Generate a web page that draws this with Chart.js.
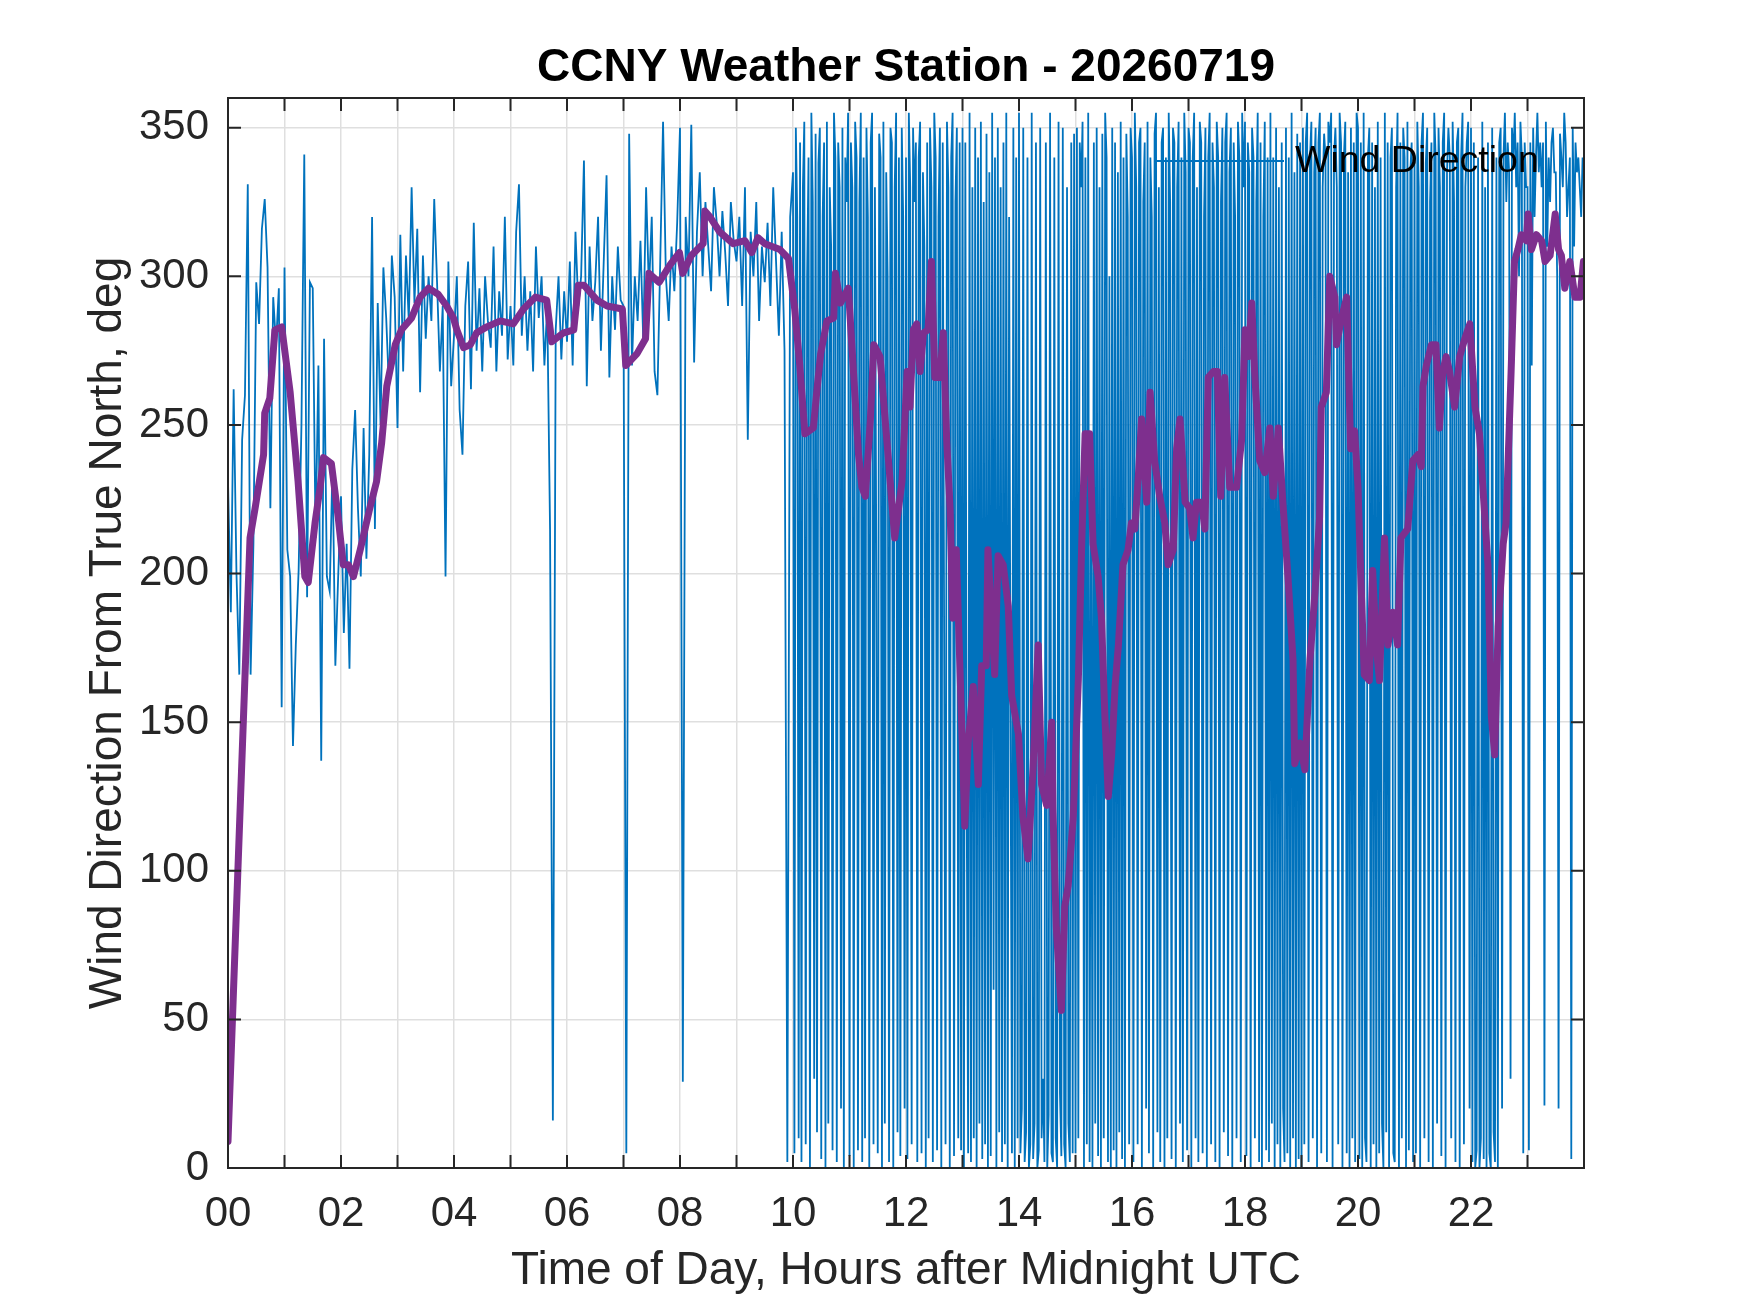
<!DOCTYPE html>
<html>
<head>
<meta charset="utf-8">
<script src="https://cdn.jsdelivr.net/npm/chart.js@4.4.1/dist/chart.umd.min.js"></script>
<style>
  html, body { margin: 0; padding: 0; background: #ffffff; }
  #wrap { width: 1750px; height: 1313px; }
</style>
</head>
<body>
<div id="wrap"><canvas id="c" width="1750" height="1313"></canvas></div>
<script>
// ---------------- DATA ----------------
const chartTitle = 'CCNY Weather Station - 20260719';
const xAxisTitle = 'Time of Day, Hours after Midnight UTC';
const yAxisTitle = 'Wind Direction From True North, deg';
const seriesName = 'Wind Direction';

// 00h-10h: one reading every 3 minutes (20 per hour), one row per hour
const earlyPerHour = 20;
const windDirectionEarly = [
  231,187,262,200,166,245,260,331,166,210,298,284,316,326,303,222,293,277,296,155, // 00
  303,208,199,142,176,201,250,341,192,298,296,212,270,137,279,199,194,237,169,199, // 01
  226,180,210,168,235,255,222,199,249,205,240,320,215,291,250,303,286,262,307,293, // 02
  249,314,268,307,285,330,291,316,261,307,279,300,285,326,298,268,290,199,305,263, // 03
  280,300,255,240,290,305,262,318,275,296,268,300,285,276,310,268,295,280,320,272, // 04
  290,270,315,331,280,300,275,295,268,310,286,300,270,290,215,16,282,300,272,295,  // 05
  278,305,270,315,290,300,339,263,310,285,298,320,275,305,334,266,300,282,310,292, // 06
  290,5,348,270,300,285,312,278,330,295,320,268,260,305,352,300,285,310,295,318,   // 07
  350,29,320,300,351,271,315,335,300,325,310,295,330,318,300,322,308,290,325,312,  // 08
  305,320,290,330,245,315,300,325,285,310,298,318,290,330,305,280,315,275,2,320    // 09
];

// 10h-24h: one reading every 1.5 minutes (40 per hour), one row per hour
const lateStartHour = 10;
const latePerHour = 40;
const windDirectionLate = [
  335,5,350,320,10,345,2,330,352,8,300,340,0,355,325,30,348,12,338,350,3,320,345,0,352,15,330,310,6,355,340,2,345,330,20,350,0,340,325,355, // 10
  4,345,330,0,352,340,6,325,355,2,340,10,350,320,0,345,355,8,330,200,5,348,340,0,352,15,335,300,2,350,345,0,330,355,12,340,4,350,320,20,     // 11
  340,3,355,330,8,350,325,345,2,340,352,5,335,310,0,345,10,350,330,2,355,340,6,320,350,0,345,180,8,352,330,0,340,355,4,325,350,10,345,6,      // 12
  350,0,345,120,5,355,2,330,10,350,0,340,15,352,3,325,8,348,0,335,4,355,60,340,0,350,12,330,2,345,8,355,0,320,150,5,350,0,340,10,            // 13
  355,5,20,350,2,12,340,0,8,355,3,15,345,0,6,350,10,30,2,345,0,18,355,5,2,340,10,0,352,25,4,350,8,0,330,15,2,345,5,348,                      // 14
  5,350,10,345,330,352,0,340,8,355,2,240,0,345,15,350,4,330,0,348,10,355,340,2,300,0,350,6,345,0,335,12,352,3,340,0,348,320,8,350,           // 15
  340,2,355,330,8,345,350,0,325,345,20,352,5,340,320,0,348,355,12,330,2,345,350,0,340,10,355,325,3,350,345,0,330,352,15,340,2,355,335,6,     // 16
  350,345,0,340,355,10,330,2,352,345,5,320,350,0,340,355,8,345,330,2,352,340,0,325,350,12,345,355,4,335,350,0,345,320,10,352,340,2,355,330,  // 17
  352,4,345,335,0,350,340,10,325,355,2,345,0,320,352,6,340,2,355,15,340,0,350,8,330,0,345,20,2,350,5,340,0,355,10,335,0,348,3,345,           // 18
  0,350,8,345,355,2,340,352,10,335,350,0,345,355,5,330,348,340,2,352,345,355,0,340,350,330,8,355,345,0,340,352,5,335,0,350,10,345,2,355,     // 19
  350,3,345,0,355,10,2,340,350,0,345,8,330,0,352,5,340,15,0,355,12,345,0,340,350,5,2,330,355,0,345,10,350,340,0,352,6,335,345,2,             // 20
  340,5,352,330,0,345,355,10,338,350,2,325,345,0,355,340,15,350,330,4,345,355,0,335,350,340,10,352,325,2,345,350,0,340,355,8,330,345,352,20, // 21
  350,2,345,0,6,340,0,10,352,3,330,0,345,5,0,350,12,2,340,0,345,350,20,340,355,325,345,335,30,350,340,355,330,345,300,352,340,5,345,330,     // 22
  330,6,345,270,350,320,340,355,335,345,330,345,21,352,310,340,325,345,350,335,335,300,20,348,340,330,355,345,320,330,340,3,350,310,345,335,340,330,320,340 // 23
];

// smoothed (running-average) direction, read at irregular hours
const avgHours = [
  0.00,0.39,0.48,0.63,0.65,0.74,0.83,0.95,1.10,1.24,1.36,1.42,1.54,1.63,1.69,1.83,1.95,
  2.04,2.13,2.22,2.34,2.51,2.63,2.72,2.81,2.96,3.07,3.25,3.40,3.55,3.72,3.87,3.99,
  4.05,4.17,4.29,4.40,4.58,4.82,5.05,5.23,5.44,5.64,5.73,5.94,6.12,6.20,6.30,6.53,6.71,6.98,
  7.04,7.24,7.39,7.45,7.63,7.83,7.99,8.05,8.20,8.41,8.44,8.53,8.70,8.94,9.15,9.27,9.38,9.50,9.77,9.92,
  10.03,10.12,10.21,10.36,10.43,10.49,10.60,10.72,10.75,10.84,10.98,11.07,11.16,11.22,11.28,11.37,11.43,
  11.54,11.63,11.72,11.80,11.93,12.02,12.07,12.13,12.19,12.25,12.31,12.39,12.45,12.51,12.60,12.66,12.72,
  12.78,12.83,12.89,12.95,13.04,13.10,13.19,13.28,13.34,13.42,13.45,13.53,13.57,13.63,13.72,13.81,13.87,
  13.99,14.07,14.16,14.25,14.34,14.40,14.49,14.58,14.60,14.66,14.75,14.81,14.87,14.96,15.05,15.11,15.17,
  15.25,15.31,15.40,15.46,15.52,15.58,15.64,15.70,15.76,15.84,15.93,15.99,16.05,16.11,16.17,16.26,16.32,
  16.40,16.49,16.58,16.64,16.73,16.79,16.85,16.94,17.02,17.08,17.14,17.23,17.29,17.35,17.44,17.51,17.57,
  17.64,17.73,17.85,17.94,18.00,18.06,18.12,18.17,18.26,18.35,18.44,18.50,18.59,18.67,18.76,18.85,18.88,
  18.97,19.06,19.15,19.24,19.32,19.35,19.44,19.50,19.59,19.62,19.71,19.80,19.87,19.94,20.00,20.05,20.11,
  20.20,20.26,20.32,20.38,20.47,20.53,20.62,20.70,20.76,20.88,20.97,21.06,21.12,21.15,21.21,21.30,21.38,
  21.44,21.50,21.56,21.62,21.71,21.80,21.89,21.98,22.07,22.15,22.21,22.30,22.36,22.42,22.48,22.57,22.62,
  22.71,22.77,22.83,22.89,22.98,23.01,23.07,23.16,23.25,23.31,23.40,23.49,23.55,23.60,23.66,23.75,23.84,
  23.93,23.99
];
const avgDirection = [
  9,212,222,240,254,259,282,283,261,231,199,197,217,229,239,237,219,
  203,203,199,208,222,231,244,263,277,282,286,293,296,294,290,286,
  282,276,277,281,283,285,284,289,293,292,278,281,282,297,297,292,290,289,
  270,274,279,301,298,304,308,301,307,311,322,320,315,311,312,308,313,311,309,306,
  289,270,247,249,263,274,285,286,301,291,296,268,240,229,226,252,277,
  273,252,231,212,231,268,256,282,284,268,281,282,305,266,266,281,245,
  222,185,208,171,115,143,162,129,169,169,208,180,166,206,203,189,159,
  146,118,104,135,176,129,122,150,121,81,53,88,95,118,164,210,247,
  247,210,199,185,152,125,139,162,176,203,208,217,215,232,252,224,261,
  238,226,217,203,208,242,252,224,222,212,224,224,215,266,268,268,226,
  266,229,229,245,282,273,291,268,238,234,249,226,249,224,199,171,136,
  143,134,171,194,219,256,261,300,293,277,286,293,242,248,229,199,166,
  164,201,176,164,212,176,187,176,212,215,238,240,236,263,270,277,277,
  249,268,273,268,256,273,279,284,256,247,229,203,152,139,182,210,217,
  268,305,309,314,312,321,309,314,312,305,307,321,309,307,296,305,293,
  293,305
];

const yTicks = [0, 50, 100, 150, 200, 250, 300, 350];
const xLabelHours = [0, 2, 4, 6, 8, 10, 12, 14, 16, 18, 20, 22];

// ---------------- CHART ----------------
const FONT = "'Liberation Sans', Arial, Helvetica, sans-serif";
const AXIS_COLOR = '#262626';
const GRID_COLOR = '#dfdfdf';

const windPoints = windDirectionEarly.map((v, i) => ({ x: i / earlyPerHour, y: v }))
  .concat(windDirectionLate.map((v, i) => ({ x: lateStartHour + i / latePerHour, y: v })));
const avgPoints = avgHours.map((h, i) => ({ x: h, y: avgDirection[i] }));

const matlabFrame = {
  id: 'matlabFrame',
  afterDraw(chart) {
    const { ctx, chartArea: a, scales: { x, y } } = chart;
    const tl = 13;
    ctx.save();
    ctx.strokeStyle = AXIS_COLOR;
    ctx.lineWidth = 2;
    ctx.beginPath();
    x.ticks.forEach(t => {
      const px = x.getPixelForValue(t.value);
      ctx.moveTo(px, a.bottom); ctx.lineTo(px, a.bottom - tl);
      ctx.moveTo(px, a.top); ctx.lineTo(px, a.top + tl);
    });
    yTicks.forEach(v => {
      const py = y.getPixelForValue(v);
      ctx.moveTo(a.left, py); ctx.lineTo(a.left + tl, py);
      ctx.moveTo(a.right, py); ctx.lineTo(a.right - tl, py);
    });
    ctx.stroke();
    ctx.strokeRect(a.left, a.top, a.right - a.left, a.bottom - a.top);

    // legend (inside, top-right, no box)
    const ly = a.top + 63;
    ctx.strokeStyle = '#0072BD';
    ctx.lineWidth = 2;
    ctx.beginPath();
    ctx.moveTo(a.right - 429, ly);
    ctx.lineTo(a.right - 300, ly);
    ctx.stroke();
    ctx.fillStyle = '#000000';
    ctx.font = '37.5px ' + FONT;
    ctx.textAlign = 'left';
    ctx.textBaseline = 'middle';
    ctx.fillText(seriesName, a.right - 289, ly + 1);
    ctx.restore();
  }
};

new Chart(document.getElementById('c'), {
  type: 'line',
  data: {
    datasets: [
      {
        label: 'Running Mean',
        data: avgPoints,
        borderColor: '#7E2F8E',
        backgroundColor: '#7E2F8E',
        borderWidth: 7,
        pointRadius: 0,
        tension: 0,
        borderJoinStyle: 'round',
        borderCapStyle: 'round',
        fill: false,
        order: 0
      },
      {
        label: seriesName,
        data: windPoints,
        borderColor: '#0072BD',
        backgroundColor: '#0072BD',
        borderWidth: 1.8,
        pointRadius: 0,
        tension: 0,
        fill: false,
        order: 1
      }
    ]
  },
  options: {
    responsive: false,
    animation: false,
    devicePixelRatio: 1,
    events: [],
    layout: { padding: { left: 0, right: 166, top: 0, bottom: 0 } },
    plugins: {
      legend: { display: false },
      tooltip: { enabled: false },
      title: {
        display: true,
        text: chartTitle,
        fullSize: false,
        color: '#000000',
        font: { family: FONT, size: 46, weight: 'bold' },
        padding: { top: 40.4, bottom: 2.4 }
      }
    },
    scales: {
      x: {
        type: 'linear',
        min: 0,
        max: 24,
        afterFit(s) { s.height = 145; },
        ticks: {
          stepSize: 1,
          autoSkip: false,
          maxRotation: 0,
          padding: 21,
          color: AXIS_COLOR,
          font: { family: FONT, size: 42 },
          callback: v => xLabelHours.includes(v) ? String(v).padStart(2, '0') : ''
        },
        grid: { color: GRID_COLOR, lineWidth: 1.5, drawTicks: false },
        border: { display: false },
        title: {
          display: true,
          text: xAxisTitle,
          color: AXIS_COLOR,
          font: { family: FONT, size: 46 },
          padding: { top: 0, bottom: 14.4 }
        }
      },
      y: {
        type: 'linear',
        min: 0,
        max: 360,
        afterFit(s) { s.width = 228; },
        afterBuildTicks(s) { s.ticks = yTicks.map(v => ({ value: v })); },
        ticks: {
          padding: 19,
          color: AXIS_COLOR,
          font: { family: FONT, size: 42 }
        },
        grid: { color: GRID_COLOR, lineWidth: 1.5, drawTicks: false },
        border: { display: false },
        title: {
          display: true,
          text: yAxisTitle,
          color: AXIS_COLOR,
          font: { family: FONT, size: 46 },
          padding: { top: 81, bottom: 0 }
        }
      }
    }
  },
  plugins: [matlabFrame]
});
</script>
</body>
</html>
